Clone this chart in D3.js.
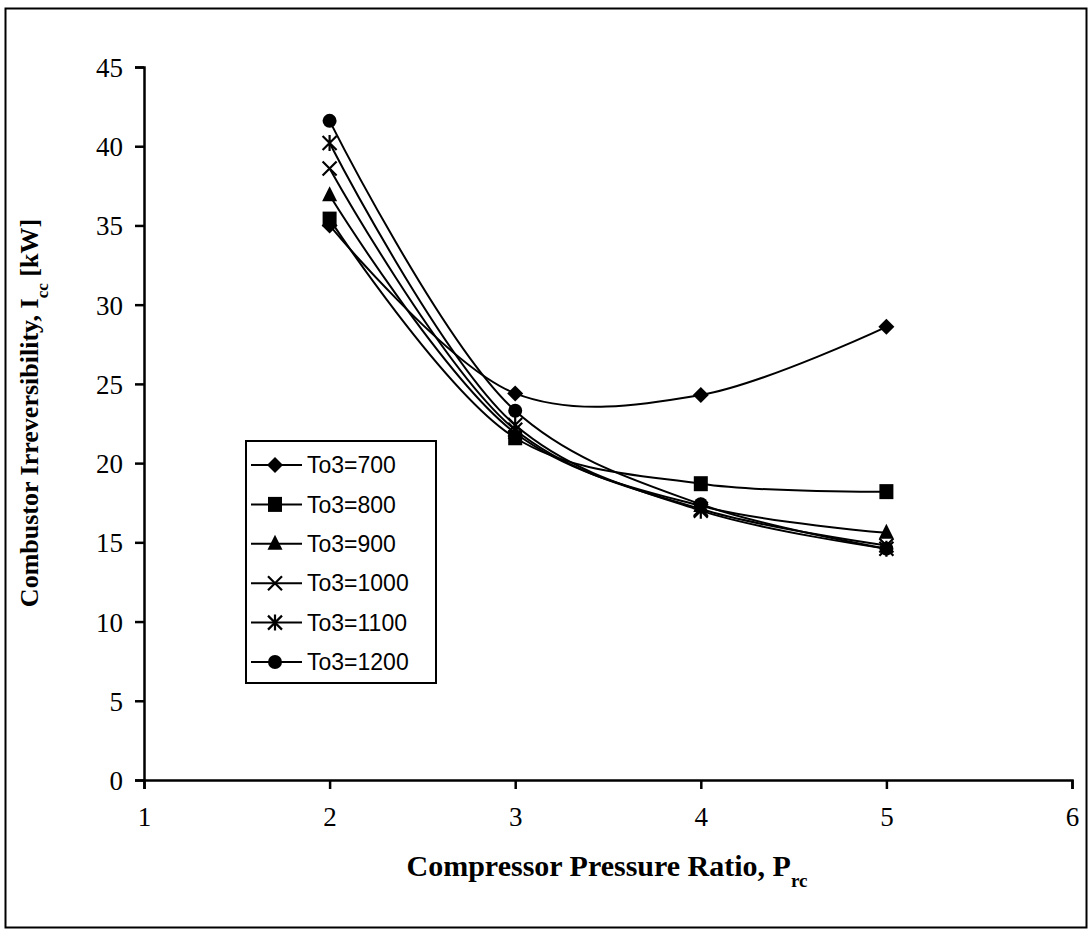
<!DOCTYPE html>
<meta charset="utf-8">
<style>
  body { margin: 0; background: #fff; }
  text { fill: #000; }
</style>
<body>
<script src="https://d3js.org/d3.v7.min.js"></script>
<script>

// data
var pressureRatio = [2, 3, 4, 5];
var seriesNames = ["To3=700", "To3=800", "To3=900", "To3=1000", "To3=1100", "To3=1200"];
var t700  = [35.0, 24.4, 24.3, 28.6];
var t800  = [35.4, 21.6, 18.7, 18.2];
var t900  = [36.9, 21.9, 17.3, 15.6];
var t1000 = [38.6, 22.1, 17.1, 14.8];
var t1100 = [40.2, 22.4, 17.0, 14.6];
var t1200 = [41.6, 23.3, 17.4, 14.6];
var xTicks = [1, 2, 3, 4, 5, 6];
var yTicks = [0, 5, 10, 15, 20, 25, 30, 35, 40, 45];

var allSeries = [t700, t800, t900, t1000, t1100, t1200];
var markers = ["diamond", "square", "triangle", "x", "asterisk", "circle"];

var W = 1091, H = 933;
var margin = {top: 67, left: 144, right: 19, bottom: 153};
var width = W - margin.left - margin.right,
    height = H - margin.top - margin.bottom;

var svg = d3.select("body").append("svg")
    .attr("width", W)
    .attr("height", H);

// outer frame
svg.append("rect")
    .attr("x", 5.5).attr("y", 8.5)
    .attr("width", W - 10).attr("height", H - 14)
    .attr("fill", "none").attr("stroke", "#000").attr("stroke-width", 2);

var g = svg.append("g")
    .attr("transform", "translate(" + margin.left + "," + margin.top + ")");

var x = d3.scaleLinear().domain([1, 6]).range([0, width]);
var y = d3.scaleLinear().domain([0, 45]).range([height, 0]);

// axes
var xAxis = g.append("g")
    .attr("transform", "translate(0," + height + ")")
    .call(d3.axisBottom(x).tickValues(xTicks).tickSize(9).tickPadding(18).tickFormat(d3.format("d")));
var yAxis = g.append("g")
    .call(d3.axisLeft(y).tickValues(yTicks).tickSize(9).tickPadding(12).tickFormat(d3.format("d")));

[xAxis, yAxis].forEach(function(a) {
  a.select(".domain").attr("stroke-width", 2.5);
  a.selectAll(".tick line").attr("stroke-width", 2.5);
  a.selectAll(".tick text")
    .style("font-family", "Liberation Serif, Times New Roman, serif")
    .style("font-size", "27px");
});
yAxis.selectAll(".tick text").attr("dy", "0.35em");

// lines
var line = d3.line()
    .x(function(d, i) { return x(pressureRatio[i]); })
    .y(function(d) { return y(d); })
    .curve(d3.curveCatmullRom.alpha(0.5));

g.selectAll(".series")
    .data(allSeries)
  .enter().append("path")
    .attr("class", "series")
    .attr("d", line)
    .attr("fill", "none")
    .attr("stroke", "#000")
    .attr("stroke-width", 2);

function drawMarker(sel, type) {
  if (type === "diamond") {
    sel.append("path").attr("d", "M0,-8L8,0L0,8L-8,0Z").attr("fill", "#000");
  } else if (type === "square") {
    sel.append("rect").attr("x", -7).attr("y", -7.5).attr("width", 14).attr("height", 15).attr("fill", "#000");
  } else if (type === "triangle") {
    sel.append("path").attr("d", "M0,-9L7.5,6L-7.5,6Z").attr("fill", "#000");
  } else if (type === "x") {
    sel.append("path").attr("d", "M-7,-7L7,7M-7,7L7,-7").attr("stroke", "#000").attr("stroke-width", 2.2);
  } else if (type === "asterisk") {
    sel.append("path").attr("d", "M-7,-7L7,7M-7,7L7,-7M0,-8L0,8").attr("stroke", "#000").attr("stroke-width", 2.2);
  } else if (type === "circle") {
    sel.append("circle").attr("r", 7).attr("fill", "#000");
  }
}

allSeries.forEach(function(vals, k) {
  vals.forEach(function(v, i) {
    var m = g.append("g")
        .attr("transform", "translate(" + x(pressureRatio[i]) + "," + y(v) + ")");
    drawMarker(m, markers[k]);
  });
});

// legend
var legend = svg.append("g").attr("transform", "translate(246,441)");
legend.append("rect")
    .attr("width", 190).attr("height", 242)
    .attr("fill", "#fff").attr("stroke", "#000").attr("stroke-width", 2);

var row = legend.selectAll(".legend")
    .data(seriesNames)
  .enter().append("g")
    .attr("class", "legend")
    .attr("transform", function(d, i) { return "translate(0," + (24 + i * 39.4) + ")"; });

row.append("line")
    .attr("x1", 5).attr("x2", 56)
    .attr("stroke", "#000").attr("stroke-width", 2);
row.each(function(d, i) {
  var m = d3.select(this).append("g").attr("transform", "translate(29,0)");
  drawMarker(m, markers[i]);
});
row.append("text")
    .attr("x", 61)
    .attr("dy", "0.36em")
    .style("font-family", "Liberation Sans, Arial, sans-serif")
    .style("font-size", "23px")
    .text(function(d) { return d; });

// axis titles
var yTitle = svg.append("text")
    .attr("text-anchor", "middle")
    .attr("transform", "translate(38,413)rotate(-90)")
    .style("font-family", "Liberation Serif, Times New Roman, serif")
    .style("font-weight", "bold")
    .style("font-size", "26px");
yTitle.append("tspan").text("Combustor Irreversibility, I");
yTitle.append("tspan").attr("baseline-shift", "sub").style("font-size", "17px").text("cc");
yTitle.append("tspan").text(" [kW]");

var xTitle = svg.append("text")
    .attr("text-anchor", "middle")
    .attr("x", 607)
    .attr("y", 876)
    .style("font-family", "Liberation Serif, Times New Roman, serif")
    .style("font-weight", "bold")
    .style("font-size", "30px");
xTitle.append("tspan").text("Compressor Pressure Ratio, P");
xTitle.append("tspan").attr("baseline-shift", "sub").style("font-size", "19px").text("rc");

</script>
</body>
